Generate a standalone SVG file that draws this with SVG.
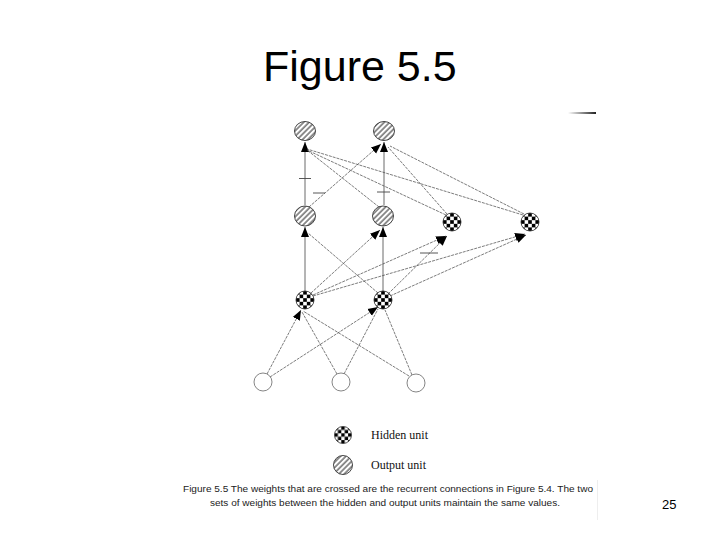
<svg xmlns="http://www.w3.org/2000/svg" width="720" height="540" viewBox="0 0 720 540">
<style>
.title{font-family:"Liberation Sans",Arial,sans-serif;font-size:43px;fill:#000}
.cap{font-family:"Liberation Sans",Arial,sans-serif;font-size:9px;fill:#222}
.leg{font-family:"Liberation Serif","Times New Roman",serif;font-size:12px;fill:#111}
.pg{font-family:"Liberation Sans",Arial,sans-serif;font-size:13px;fill:#000}
.out{fill:url(#hatch);stroke:#333;stroke-width:0.9}
.hid{fill:url(#check);stroke:#222;stroke-width:0.8}
.inp{fill:#fff;stroke:#666;stroke-width:0.8}
.c{stroke:#444;stroke-width:0.8;fill:none}
.d{stroke:#444;stroke-width:0.7;fill:none;stroke-dasharray:3 1}
.tick{stroke:#444;stroke-width:0.9}
</style>
<defs>
<pattern id="hatch" patternUnits="userSpaceOnUse" width="3.8" height="3.8" patternTransform="rotate(45)">
<rect width="3.8" height="3.8" fill="#fff"/>
<line x1="1" y1="0" x2="1" y2="3.8" stroke="#222" stroke-width="1"/>
</pattern>
<pattern id="check" patternUnits="objectBoundingBox" patternContentUnits="objectBoundingBox" width="0.4" height="0.4">
<rect width="0.4" height="0.4" fill="#fff"/>
<rect width="0.2" height="0.2" fill="#000"/>
<rect x="0.2" y="0.2" width="0.2" height="0.2" fill="#000"/>
</pattern>
<marker id="ah" viewBox="0 0 10 8" refX="10" refY="4" markerWidth="10" markerHeight="9" markerUnits="userSpaceOnUse" orient="auto">
<path d="M0,0 L10,4 L0,8 z" fill="#000"/>
</marker>
<linearGradient id="bar" x1="0" y1="0" x2="1" y2="0">
<stop offset="0" stop-color="#fff"/>
<stop offset="1" stop-color="#222"/>
</linearGradient>
</defs>
<rect width="720" height="540" fill="#fff"/>
<text class="title" x="263" y="81">Figure 5.5</text>
<rect x="568" y="112" width="28" height="2" fill="url(#bar)"/>
<line x1="597.5" y1="480" x2="597.5" y2="520" stroke="#eee" stroke-width="1"/>

<g id="connectors">
<line class="c" x1="305" y1="205" x2="305" y2="142" marker-end="url(#ah)"/>
<line class="c" x1="384" y1="205" x2="384" y2="142" marker-end="url(#ah)"/>
<line class="d" x1="309" y1="207" x2="381" y2="144" marker-end="url(#ah)"/>
<line class="d" x1="379" y1="207" x2="307" y2="150"/>
<line class="d" x1="446" y1="215" x2="307" y2="150"/>
<line class="d" x1="523" y1="215" x2="307" y2="149"/>
<line class="d" x1="447" y1="214" x2="388" y2="147"/>
<line class="d" x1="524" y1="214" x2="390" y2="146"/>
<line class="c" x1="305" y1="291" x2="305" y2="227" marker-end="url(#ah)"/>
<line class="c" x1="383" y1="291" x2="383" y2="227" marker-end="url(#ah)"/>
<line class="d" x1="311" y1="293" x2="380" y2="230" marker-end="url(#ah)"/>
<line class="d" x1="378" y1="293" x2="308" y2="233"/>
<line class="d" x1="313" y1="295" x2="446" y2="236" marker-end="url(#ah)"/>
<line class="d" x1="313" y1="296" x2="525" y2="234" marker-end="url(#ah)"/>
<line class="d" x1="388" y1="294" x2="447" y2="236" marker-end="url(#ah)"/>
<line class="d" x1="390" y1="296" x2="526" y2="235" marker-end="url(#ah)"/>
<line class="d" x1="267" y1="374" x2="301" y2="310" marker-end="url(#ah)"/>
<line class="d" x1="270" y1="377" x2="378" y2="307" marker-end="url(#ah)"/>
<line class="d" x1="337" y1="374" x2="302" y2="312"/>
<line class="d" x1="344" y1="374" x2="378" y2="309"/>
<line class="d" x1="409" y1="376" x2="303" y2="311"/>
<line class="d" x1="412" y1="375" x2="385" y2="310"/>
<g id="ticks">
<line class="tick" x1="299" y1="178.5" x2="311" y2="178.5"/>
<line class="tick" x1="313" y1="193" x2="325" y2="193"/>
<line class="tick" x1="377" y1="192" x2="390" y2="192"/>
<line class="tick" x1="420" y1="253" x2="438" y2="253"/>
</g>
</g>

<g id="out1"><ellipse class="out" cx="305" cy="131" rx="10.5" ry="9.5"/></g>
<g id="out2"><ellipse class="out" cx="384" cy="131" rx="10.5" ry="9.5"/></g>
<g id="out1p"><ellipse class="out" cx="305" cy="216" rx="10.5" ry="10"/></g>
<g id="out2p"><ellipse class="out" cx="383" cy="216" rx="10.5" ry="10"/></g>
<g id="hid1p"><circle class="hid" cx="452" cy="222" r="9"/></g>
<g id="hid2p"><circle class="hid" cx="530" cy="222" r="9"/></g>
<g id="hid1"><circle class="hid" cx="305" cy="300" r="9"/></g>
<g id="hid2"><circle class="hid" cx="383" cy="300" r="9"/></g>
<g id="in1"><circle class="inp" cx="263" cy="382" r="9"/></g>
<g id="in2"><circle class="inp" cx="341" cy="382" r="9"/></g>
<g id="in3"><circle class="inp" cx="416" cy="383" r="9"/></g>

<g id="legend">
<circle class="hid" cx="343" cy="435" r="8.5"/>
<text class="leg" x="371" y="439">Hidden unit</text>
<circle class="out" cx="343" cy="465" r="9.5"/>
<text class="leg" x="371" y="469">Output unit</text>
</g>
<text class="cap" x="183" y="492" textLength="410" lengthAdjust="spacingAndGlyphs">Figure 5.5 The weights that are crossed are the recurrent connections in Figure 5.4. The two</text>
<text class="cap" x="210" y="506" textLength="350" lengthAdjust="spacingAndGlyphs">sets of weights between the hidden and output units maintain the same values.</text>
<text class="pg" x="662" y="509">25</text>
</svg>
